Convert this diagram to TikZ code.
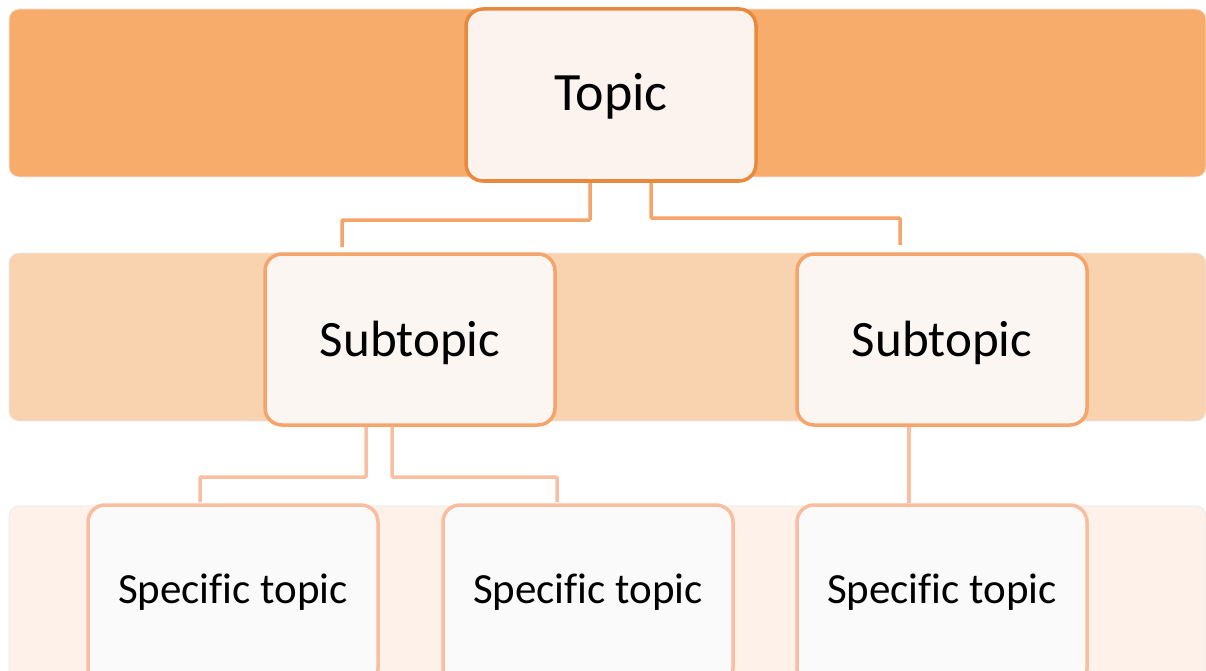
\documentclass[tikz,border=0pt]{standalone}
\usepackage{fontspec}
\setmainfont[Ligatures=NoCommon]{Carlito}
\definecolor{bandA}{HTML}{F8AC6C}
\definecolor{bandB}{HTML}{F9D2AF}
\definecolor{bandC}{HTML}{FDF1E9}
\definecolor{topFill}{HTML}{FCF3EE}
\definecolor{topLine}{HTML}{E8893E}
\definecolor{subFill}{HTML}{FCF6F2}
\definecolor{subLine}{HTML}{F5A56B}
\definecolor{specFill}{HTML}{FAFAFA}
\definecolor{specLine}{HTML}{F9BDA0}
\definecolor{connA}{HTML}{F5A46A}
\definecolor{connB}{HTML}{F8C0A0}
\newcommand{\basetext}[2]{\smash{\raisebox{#1}{#2}}}
\tikzset{
  band/.style={rounded corners=10pt, draw=black!8, line width=0.8pt},
  topicbox/.style={draw=topLine, fill=topFill, line width=3.5pt, rounded corners=17pt, minimum width=290pt, minimum height=172pt, inner sep=0pt, font=\fontsize{54}{64}\selectfont},
  subbox/.style={draw=subLine, fill=subFill, line width=3.5pt, rounded corners=17pt, minimum width=290pt, minimum height=171pt, inner sep=0pt, font=\fontsize{51}{61}\selectfont},
  specbox/.style={draw=specLine, fill=specFill, line width=3.5pt, rounded corners=17pt, minimum width=290pt, minimum height=180pt, inner sep=0pt, font=\fontsize{43}{52}\selectfont},
  connupper/.style={draw=connA, line width=3.5pt, rounded corners=1pt},
  connlower/.style={draw=connB, line width=3.5pt, rounded corners=1pt},
}
\begin{document}
\begin{tikzpicture}[x=1pt,y=-1pt]
\useasboundingbox (0,0) rectangle (1206,671);
\clip (0,0) rectangle (1206,671);
\fill[white] (0,0) rectangle (1206,671);
% bands
\path[band, fill=bandA] (9,9) rectangle (1206,177);
\path[band, fill=bandB] (9,253) rectangle (1206,421);
\path[band, fill=bandC] (9,506) rectangle (1206,700);
% nodes
\node[topicbox] (topic) at (611,95) {\basetext{-16pt}{Topic}};
\node[subbox] (sub1) at (410,339.5) {\basetext{-16.5pt}{Subtopic}};
\node[subbox] (sub2) at (942,339.5) {\basetext{-16.5pt}{Subtopic}};
\node[specbox] (spec1) at (233,595) {\basetext{-8pt}{Specific topic}};
\node[specbox] (spec2) at (588,595) {\basetext{-8pt}{Specific topic}};
\node[specbox] (spec3) at (942,595) {\basetext{-8pt}{Specific topic}};
% connector end coordinates
\coordinate (e1) at (342,247);
\coordinate (e2) at (900,245);
\coordinate (e3) at (200,502);
\coordinate (e4) at (557,502);
% connectors
\draw[connupper] ([xshift=-21pt]topic.south) |- (342,220) -- (e1);
\draw[connupper] ([xshift=40pt]topic.south) |- (900,218) -- (e2);
\draw[connlower] ([xshift=-44pt]sub1.south) |- (200,477) -- (e3);
\draw[connlower] ([xshift=-18pt]sub1.south) |- (557,477) -- (e4);
\draw[connlower] ([xshift=-33pt]sub2.south) -- ([xshift=-33pt]spec3.north);
\end{tikzpicture}
\end{document}
